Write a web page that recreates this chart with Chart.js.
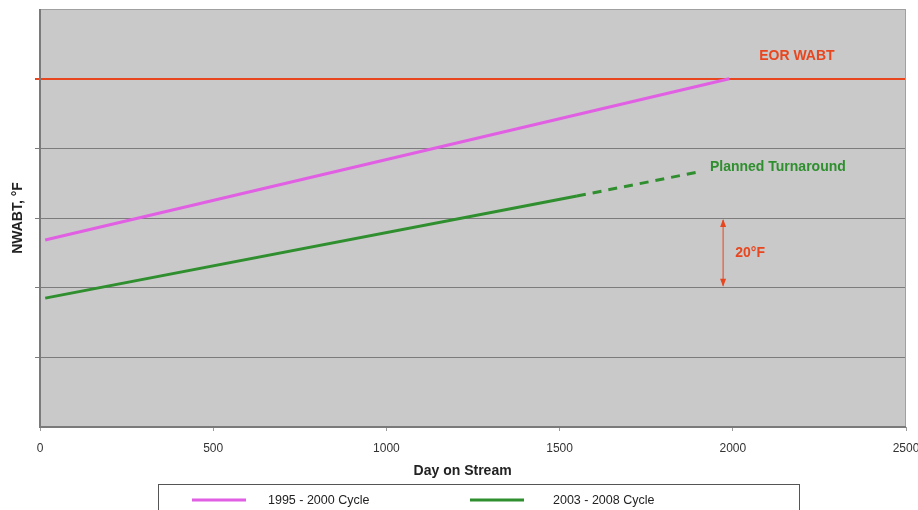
<!DOCTYPE html>
<html>
<head>
<meta charset="utf-8">
<script src="https://cdn.jsdelivr.net/npm/chart.js@4.4.1/dist/chart.umd.min.js"></script>
<style>
  html, body { margin: 0; padding: 0; background: #ffffff; }
  #wrap { width: 918px; height: 510px; }
</style>
</head>
<body>
<div id="wrap"><canvas id="c" width="918" height="510"></canvas></div>
<script>
// ---- data ----
const xTickValues = [0, 500, 1000, 1500, 2000, 2500];
const seriesNames = ['1995 - 2000 Cycle', '2003 - 2008 Cycle'];
const cycle1Days = [15, 1990];
const cycle1Temp = [53.7, 100];
const cycle2Days = [15, 1550];
const cycle2Temp = [37, 66.3];
const plannedDays = [1550, 1900];
const plannedTemp = [66.3, 73.2];
const eorWabt = 100;          // relative °F
const yRange = [0, 120];      // relative °F, 20 °F per grid step
const yStep = 20;
const xTitle = 'Day on Stream';

const pink = '#e05fe3';
const green = '#2f8f2f';
const red = '#e8461f';
const FONT = '"Liberation Sans", Arial, sans-serif';

function pts(xs, ys) { return xs.map((x, i) => ({ x: x, y: ys[i] })); }

const bgPlugin = {
  id: 'bg',
  beforeDraw(chart) {
    const { ctx, chartArea: a } = chart;
    ctx.save();
    ctx.fillStyle = '#ffffff';
    ctx.fillRect(0, 0, chart.width, chart.height);
    ctx.fillStyle = '#c9c9c9';
    ctx.fillRect(a.left, a.top, a.right - a.left, a.bottom - a.top);
    ctx.restore();
  },
  afterDraw(chart) {
    const { ctx, chartArea: a, scales } = chart;
    const xs = scales.x, ys = scales.y;
    ctx.save();
    // plot border
    ctx.strokeStyle = '#a0a0a0';
    ctx.lineWidth = 1;
    ctx.strokeRect(a.left + 0.5, a.top + 0.5, a.right - a.left - 1, a.bottom - a.top - 1);
    ctx.strokeStyle = '#7a7a7a';
    ctx.lineWidth = 2;
    ctx.beginPath();
    ctx.moveTo(a.left, a.top); ctx.lineTo(a.left, a.bottom); ctx.lineTo(a.right, a.bottom);
    ctx.stroke();

    // x axis title
    ctx.font = 'bold 14px ' + FONT;
    ctx.fillStyle = '#222222';
    ctx.textAlign = 'center';
    ctx.textBaseline = 'middle';
    ctx.fillText(xTitle, xs.getPixelForValue(1220), 471);

    // annotations
    ctx.font = 'bold 14px ' + FONT;
    ctx.textBaseline = 'middle';
    ctx.fillStyle = red;
    ctx.textAlign = 'center';
    ctx.fillText('EOR WABT', xs.getPixelForValue(2185), ys.getPixelForValue(106.5));
    ctx.fillStyle = green;
    ctx.textAlign = 'left';
    ctx.fillText('Planned Turnaround', xs.getPixelForValue(1934), ys.getPixelForValue(74.6));
    // 20°F arrow
    const ax = xs.getPixelForValue(1972);
    const y1 = ys.getPixelForValue(60), y2 = ys.getPixelForValue(40);
    ctx.strokeStyle = red; ctx.fillStyle = red; ctx.lineWidth = 1;
    ctx.beginPath(); ctx.moveTo(ax, y1 + 2); ctx.lineTo(ax, y2 - 2); ctx.stroke();
    ctx.beginPath(); ctx.moveTo(ax, y1 + 1); ctx.lineTo(ax - 3, y1 + 9); ctx.lineTo(ax + 3, y1 + 9); ctx.closePath(); ctx.fill();
    ctx.beginPath(); ctx.moveTo(ax, y2 - 1); ctx.lineTo(ax - 3, y2 - 9); ctx.lineTo(ax + 3, y2 - 9); ctx.closePath(); ctx.fill();
    ctx.textAlign = 'left';
    ctx.fillText('20°F', xs.getPixelForValue(2007), ys.getPixelForValue(50));

    // legend box
    const lx = 158, ly = 484, lw = 641, lh = 40;
    ctx.fillStyle = '#ffffff';
    ctx.fillRect(lx, ly, lw, lh);
    ctx.strokeStyle = '#555555'; ctx.lineWidth = 1;
    ctx.strokeRect(lx + 0.5, ly + 0.5, lw, lh);
    const items = [
      { name: chart.data.datasets[0].label, color: chart.data.datasets[0].borderColor, x0: 192, tx: 268 },
      { name: chart.data.datasets[1].label, color: chart.data.datasets[1].borderColor, x0: 470, tx: 553 }
    ];
    ctx.font = '12.5px ' + FONT;
    ctx.textBaseline = 'middle';
    items.forEach(it => {
      ctx.strokeStyle = it.color; ctx.lineWidth = 3;
      ctx.beginPath(); ctx.moveTo(it.x0, 500); ctx.lineTo(it.x0 + 54, 500); ctx.stroke();
      ctx.fillStyle = '#222222';
      ctx.fillText(it.name, it.tx, 501);
    });
    ctx.restore();
  }
};

new Chart(document.getElementById('c'), {
  type: 'scatter',
  data: {
    datasets: [
      { label: seriesNames[0], data: pts(cycle1Days, cycle1Temp), showLine: true, borderColor: pink, backgroundColor: pink, borderWidth: 3, pointRadius: 0 },
      { label: seriesNames[1], data: pts(cycle2Days, cycle2Temp), showLine: true, borderColor: green, backgroundColor: green, borderWidth: 3, pointRadius: 0 },
      { label: 'Planned', data: pts(plannedDays, plannedTemp), showLine: true, borderColor: green, backgroundColor: green, borderWidth: 3, borderDash: [9, 7], pointRadius: 0 }
    ]
  },
  options: {
    responsive: false,
    animation: false,
    layout: { padding: { left: 6, right: 12, top: 9, bottom: 30 } },
    plugins: { legend: { display: false }, tooltip: { enabled: false } },
    scales: {
      x: {
        type: 'linear', min: 0, max: 2500,
        afterBuildTicks(s) { s.ticks = xTickValues.map(v => ({ value: v })); },
        afterFit(s) { s.height = 53; s.paddingLeft = 0; s.paddingRight = 0; },
        grid: { display: true, drawOnChartArea: false, drawTicks: true, tickLength: 4, color: '#9a9a9a' },
        border: { display: false },
        ticks: { padding: 10, color: '#333333', font: { family: FONT, size: 12 }, maxRotation: 0, callback: v => String(v) },
        title: { display: false }
      },
      y: {
        min: yRange[0], max: yRange[1],
        afterFit(s) { s.width = 34; s.paddingTop = 0; s.paddingBottom = 0; },
        ticks: { display: false, stepSize: yStep },
        grid: {
          drawTicks: true, tickLength: 5,
          color(c) {
            const v = c.tick.value;
            if (v === eorWabt) return red;
            if (v === yRange[0] || v === yRange[1]) return 'rgba(0,0,0,0)';
            return '#7c7c7c';
          },
          lineWidth(c) { return c.tick.value === eorWabt ? 2 : 1; }
        },
        border: { display: false },
        title: { display: true, text: 'NWABT, °F', color: '#222222', font: { family: FONT, size: 14, weight: 'bold' } }
      }
    }
  },
  plugins: [bgPlugin]
});
</script>
</body>
</html>
